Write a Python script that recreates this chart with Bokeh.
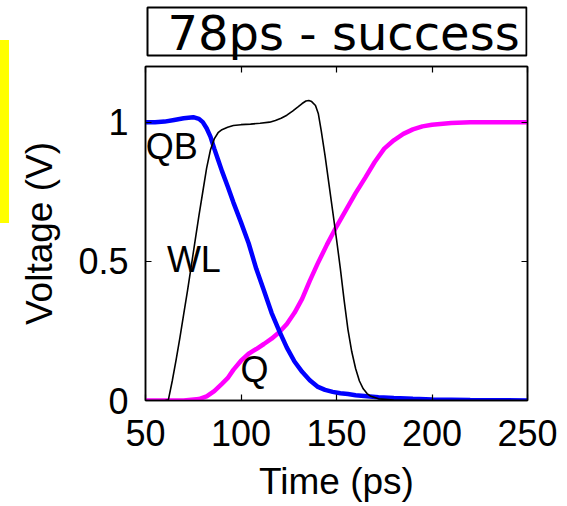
from bokeh.plotting import figure
from bokeh.models import (ColumnDataSource, LinearAxis, FixedTicker, Range1d,
                          Label, BoxAnnotation, Spacer)
from bokeh.layouts import row, column
from bokeh.embed import file_html
from bokeh.resources import INLINE

# --- waveforms: time (ps) vs node voltage (V) ---
t_qb = [50, 55, 60, 65, 70, 75, 78, 80, 82, 84, 86, 88, 90, 93, 96, 100, 104,
        108, 112, 116, 120, 124, 128, 132, 136, 140, 144, 148, 152, 156, 160,
        166, 172, 180, 190, 200, 220, 250]
v_qb = [1.0, 1.0, 1.002, 1.008, 1.014, 1.018, 1.012, 1.0, 0.978, 0.948, 0.905,
        0.865, 0.825, 0.77, 0.712, 0.64, 0.565, 0.473, 0.395, 0.315, 0.25,
        0.19, 0.14, 0.103, 0.073, 0.05, 0.038, 0.031, 0.026, 0.023, 0.019,
        0.015, 0.012, 0.009, 0.006, 0.004, 0.002, 0.0]

t_wl = [50, 60, 62, 64, 66, 68, 70, 72, 74, 76, 78, 80, 82, 84, 86, 88, 90,
        93, 96, 100, 105, 110, 115, 118, 121, 124, 127, 130, 132, 134, 135.5,
        137, 139, 140.5, 142, 144, 146, 148, 150, 152, 154, 156, 158, 160,
        162, 164, 166, 168, 172, 180, 200, 250]
v_wl = [0.0, 0.0, 0.003, 0.07, 0.145, 0.225, 0.31, 0.395, 0.485, 0.575, 0.665,
        0.75, 0.835, 0.9, 0.94, 0.962, 0.973, 0.982, 0.988, 0.991, 0.993,
        0.996, 1.0, 1.006, 1.014, 1.025, 1.04, 1.056, 1.067, 1.076, 1.078,
        1.074, 1.06, 1.03, 0.97, 0.88, 0.78, 0.68, 0.58, 0.475, 0.36, 0.255,
        0.175, 0.115, 0.07, 0.042, 0.025, 0.015, 0.006, 0.002, 0.0, 0.0]

t_q = [50, 70, 78, 82, 86, 90, 93, 96, 100, 104, 108, 112, 116, 120, 124, 128,
       132, 136, 140, 145, 150, 155, 160, 165, 170, 175, 180, 185, 190, 195,
       200, 210, 220, 250]
v_q = [0.0, 0.0, 0.005, 0.015, 0.034, 0.06, 0.08, 0.11, 0.143, 0.168, 0.185,
       0.203, 0.222, 0.245, 0.275, 0.315, 0.365, 0.43, 0.49, 0.56, 0.625,
       0.685, 0.745, 0.8, 0.857, 0.905, 0.935, 0.958, 0.974, 0.985, 0.991,
       0.997, 1.0, 1.0]

x_ticks = [50, 100, 150, 200, 250]
y_ticks = [0, 0.5, 1]
title_text = "78ps - success"
x_label = "Time (ps)"
y_label = "Voltage (V)"

FONT = "Liberation Sans"

# ---------------- header: boxed heading ----------------
# The header's frame lines up with the axes frame below it, so its x range
# is expressed in page pixels of that frame (145 .. 527).
HEAD_H = 62
head = figure(width=558, height=HEAD_H, output_backend="svg",
              toolbar_location=None, x_axis_type=None, y_axis_type=None,
              x_range=Range1d(145, 527), y_range=Range1d(0, HEAD_H),
              min_border=0, min_border_left=0, min_border_right=0,
              min_border_top=0, min_border_bottom=0)
head.grid.visible = False
head.outline_line_color = None
head.background_fill_color = "white"
head.border_fill_color = "white"
head.add_layout(BoxAnnotation(left=147, right=526, bottom=7, top=55,
                              fill_color=None, fill_alpha=0,
                              line_color="black", line_alpha=1.0,
                              line_width=2))
head.add_layout(Label(x=167, y=30, text=title_text, text_font="DejaVu Sans",
                      text_font_size="48px", text_color="black",
                      text_baseline="alphabetic", text_align="left"))

# ---------------- main axes ----------------
p = figure(width=558, height=444, output_backend="svg", toolbar_location=None,
           x_range=Range1d(50, 250), y_range=Range1d(0, 1.2),
           min_border_left=136, min_border_right=40,
           min_border_top=4, min_border_bottom=106)
p.background_fill_color = "white"
p.border_fill_color = "white"
p.grid.visible = False
p.outline_line_color = "black"
p.outline_line_width = 1.5


def style_axis(ax, ticks, labels=True):
    ax.ticker = FixedTicker(ticks=ticks)
    ax.major_tick_in = 6
    ax.major_tick_out = 0
    ax.minor_tick_line_color = None
    ax.axis_line_color = "black"
    ax.axis_line_width = 1.5
    ax.major_tick_line_color = "black"
    ax.major_tick_line_width = 1.2
    ax.major_label_text_font = FONT
    ax.major_label_text_font_size = "36px"
    ax.major_label_text_color = "black"
    ax.axis_label_text_font = FONT
    ax.axis_label_text_font_size = "37px"
    ax.axis_label_text_font_style = "normal"
    ax.axis_label_text_color = "black"
    if not labels:
        ax.major_label_text_font_size = "0px"
        ax.major_label_text_color = None
        ax.major_label_standoff = 0


xb = p.xaxis[0]
yl = p.yaxis[0]
style_axis(xb, x_ticks)
style_axis(yl, y_ticks)
xb.axis_label = x_label
yl.axis_label = y_label
xb.major_label_standoff = 19
xb.axis_label_standoff = 12
yl.major_label_standoff = 17
yl.axis_label_standoff = 15

xt = LinearAxis()
yr = LinearAxis()
p.add_layout(xt, "above")
p.add_layout(yr, "right")
style_axis(xt, x_ticks, labels=False)
style_axis(yr, y_ticks, labels=False)

src_q = ColumnDataSource(dict(t=t_q, v=v_q))
src_qb = ColumnDataSource(dict(t=t_qb, v=v_qb))
src_wl = ColumnDataSource(dict(t=t_wl, v=v_wl))
p.line("t", "v", source=src_q, line_color="#ff00ff", line_width=4.5)
p.line("t", "v", source=src_qb, line_color="#0000ff", line_width=4.5)
p.line("t", "v", source=src_wl, line_color="black", line_width=1.6)

# node names beside the traces
for name, lx, ly in [("QB", 50.1, 0.911), ("WL", 61.2, 0.506), ("Q", 99.7, 0.112)]:
    p.add_layout(Label(x=lx, y=ly, text=name, text_font=FONT,
                       text_font_size="36px", text_color="black",
                       text_baseline="alphabetic", text_align="left"))

# yellow marker strip at the far left
strip = column(Spacer(width=9, height=40),
               Spacer(width=9, height=183, styles={"background-color": "#ffff00"}),
               spacing=0)

layout = row(strip, column(head, p, spacing=0), spacing=0)

open("out.html", "w").write(file_html(layout, INLINE))
